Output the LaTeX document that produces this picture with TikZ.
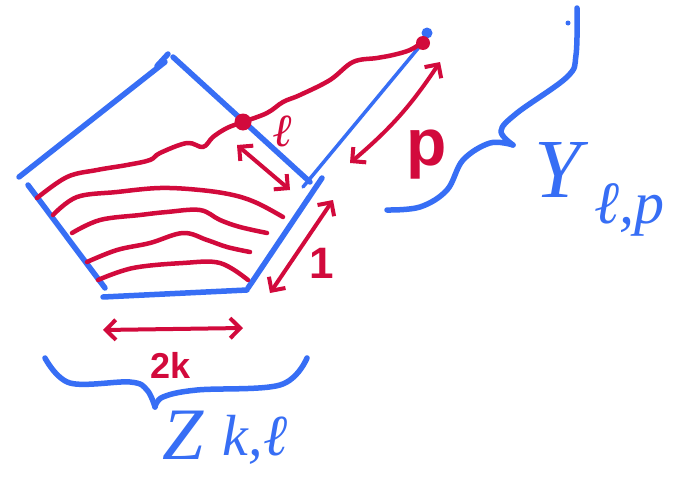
\documentclass[tikz,border=0pt]{standalone}
\usepackage{fontspec}
\setsansfont{Liberation Sans}
\newfontfamily\labfont{Liberation Serif}
\usetikzlibrary{arrows.meta}
\definecolor{myblue}{RGB}{55,110,245}
\definecolor{myred}{RGB}{210,10,60}
\begin{document}
\begin{tikzpicture}[x=1pt,y=-1pt,line cap=round,line join=round,
  bl/.style={draw=myblue,line width=5.5pt},
  blt/.style={draw=myblue,line width=3.5pt},
  rd/.style={draw=myred,line width=4.5pt},
  barb/.tip={Straight Barb[length=10pt,width=20pt]},
  dbl/.style={rd,line width=4pt,{barb}-{barb}},
  redlab/.style={text=myred,font=\sffamily\bfseries},
  bluelab/.style={text=myblue,inner sep=0pt}]
\useasboundingbox[fill=white] (0,0) rectangle (673,479);
% pentagon vertices
\coordinate (vl) at (19,177);
\coordinate (vt) at (165,62);
\coordinate (vt2) at (173,57);
\coordinate (vr) at (310,182);
\coordinate (vr2) at (322,178);
\coordinate (vbr) at (248,288);
\coordinate (vbr2) at (247,290);
\coordinate (vbl) at (103,297);
\coordinate (vl2) at (28,185);
\coordinate (vbl2) at (105,288);
\coordinate (tip) at (425,40);
\coordinate (base) at (303,187);
% blue outline
\draw[bl] (vl) -- (vt);
\draw[bl] (157,66) -- (168,54);
\draw[bl] (vt2) -- (vr);
\draw[bl] (vr2) -- (vbr);
\draw[bl] (vbl) -- (vbr2);
\draw[bl] (vl2) -- (vbl2);
\draw[blt] (base) -- (tip);
\fill[myblue] (427,33) circle (5.5);
% red curves
\draw[rd] plot[smooth,tension=0.6] coordinates {(37,198) (67,177) (97,170) (127,165) (150,160) (160,153) (187,143) (203,147) (213,137) (227,128) (243,122) (267,113) (283,102) (300,95) (330,80) (353,62) (377,58) (393,55) (410,50) (423,42)};
\draw[rd] plot[smooth,tension=0.6] coordinates {(53,215) (77,197) (117,192) (160,188) (200,190) (233,195) (257,203) (283,217)};
\draw[rd] plot[smooth,tension=0.6] coordinates {(72,233) (100,220) (140,215) (167,212) (200,210) (220,220) (240,227) (267,233)};
\draw[rd] plot[smooth,tension=0.6] coordinates {(87,262) (117,250) (150,243) (183,233) (207,240) (227,247) (250,252)};
\draw[rd] plot[smooth,tension=0.6] coordinates {(98,280) (133,268) (183,263) (220,263) (248,280)};
\fill[myred] (243,122) circle (8.5);
\fill[myred] (423,43) circle (7);
% arrows
\coordinate (la) at (237,145); \coordinate (lb) at (290,190);
\draw[dbl] (la) -- (lb);
\coordinate (pa) at (440,62); \coordinate (pb) at (350,163);
\draw[dbl] (pa) to[bend left=8] (pb);
\coordinate (oa) at (333,200); \coordinate (ob) at (270,293);
\draw[dbl] (oa) -- (ob);
\coordinate (ka) at (103,330); \coordinate (kb) at (243,328);
\draw[dbl] (ka) -- (kb);
% labels
\node[text=myred,inner sep=0pt,font=\labfont\bfseries\itshape\fontsize{46}{46}\selectfont] (lell) at (283,131) {ℓ};
\node[redlab,inner sep=0pt,font=\sffamily\bfseries\fontsize{66}{66}\selectfont] (lp) at (427,155) {p};
\node[redlab,font=\sffamily\bfseries\fontsize{44}{44}\selectfont] (l1) at (322,263) {1};
\node[redlab,font=\sffamily\bfseries\fontsize{36}{36}\selectfont] (l2k) at (171,365) {2k};
% right brace
\draw[bl] plot[smooth,tension=0.6] coordinates {(387,210) (420,207) (447,190) (463,160) (490,143) (513,145)};
\draw[bl] plot[smooth,tension=0.6] coordinates {(513,145) (501,131) (517,113) (567,77) (576,55) (577,8)};
\fill[myblue] (568,23) circle (2.5);
% bottom brace
\draw[bl] plot[smooth,tension=0.6] coordinates {(45,358) (70,383) (130,382) (147,390) (155,407)};
\draw[bl] plot[smooth,tension=0.6] coordinates {(155,407) (163,397) (197,390) (280,385) (307,358)};
% blue labels
\node[bluelab,font=\labfont\itshape\fontsize{84}{84}\selectfont] (ly) at (558,170) {Y};
\node[bluelab,anchor=west,font=\labfont\itshape\fontsize{60}{60}\selectfont] (lyi) at (594,210) {ℓ,p};
\node[bluelab,font=\labfont\itshape\fontsize{74}{74}\selectfont] (lz) at (183,435) {Z};
\node[bluelab,font=\labfont\itshape\fontsize{58}{58}\selectfont] (lzi) at (255,440) {k,ℓ};
\end{tikzpicture}
\end{document}
